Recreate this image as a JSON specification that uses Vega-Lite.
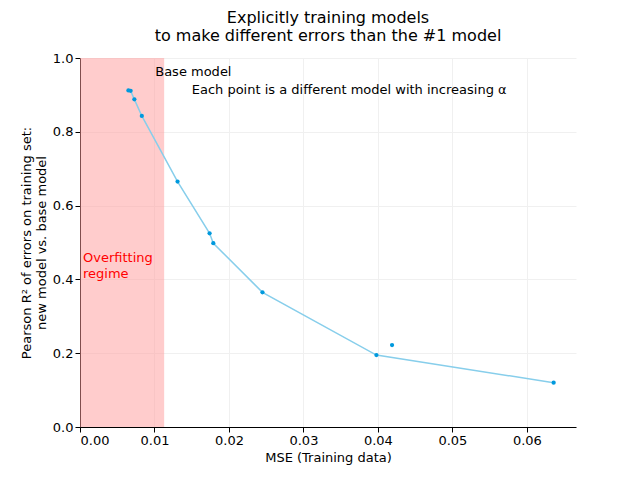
{
"$schema":"https://vega.github.io/schema/vega-lite/v6.json",
"width":496,"height":369,
"background":"white",
"padding":{"left":20,"top":10,"right":5,"bottom":5},
"title":{"text":["Explicitly training models","to make different errors than the #1 model"],"font":"DejaVu Sans","fontSize":16,"fontWeight":"normal","color":"black","offset":8},
"config":{"view":{"stroke":null},"axis":{"labelFont":"DejaVu Sans","titleFont":"DejaVu Sans","labelFontSize":13,"titleFontSize":13,"titleFontWeight":"normal","labelColor":"black","titleColor":"black","domainColor":"black","tickColor":"black","gridColor":"#f0f0f0","tickSize":5}},
"datasets":{
"pts":[
{"mse":0.0065,"r2":0.912,"line":true},
{"mse":0.0068,"r2":0.911,"line":true},
{"mse":0.0073,"r2":0.888,"line":true},
{"mse":0.0083,"r2":0.843,"line":true},
{"mse":0.0131,"r2":0.665,"line":true},
{"mse":0.0174,"r2":0.525,"line":true},
{"mse":0.0179,"r2":0.498,"line":true},
{"mse":0.0245,"r2":0.365,"line":true},
{"mse":0.0398,"r2":0.195,"line":true},
{"mse":0.0419,"r2":0.222,"line":false},
{"mse":0.0636,"r2":0.12,"line":true}],
"region":[{"x0":0,"x1":0.0113}],
"labels":[
{"x":0.0101,"y":0.962,"t":"Base model","c":"black"},
{"x":0.015,"y":0.913,"t":"Each point is a different model with increasing α","c":"black"},
{"x":0.0004,"y":0.457,"t":"Overfitting","c":"red"},
{"x":0.0004,"y":0.415,"t":"regime","c":"red"}]
},
"layer":[
{"data":{"name":"region"},"mark":{"type":"rect","color":"#ff9999","opacity":0.5},
 "encoding":{"x":{"field":"x0","type":"quantitative","scale":{"domain":[0,0.0666],"nice":false},"axis":{"title":"MSE (Training data)","values":[0,0.01,0.02,0.03,0.04,0.05,0.06],"format":".2f","grid":true}},"x2":{"field":"x1"},
 "y":{"datum":0,"type":"quantitative","scale":{"domain":[0,1],"nice":false},"axis":{"title":["Pearson R² of errors on training set:","new model vs. base model"],"values":[0,0.2,0.4,0.6,0.8,1.0],"format":".1f","grid":true}},"y2":{"datum":1}}},
{"data":{"name":"pts"},"transform":[{"filter":"datum.line"}],"mark":{"type":"line","color":"#87ceeb","strokeWidth":1.5},
 "encoding":{"x":{"field":"mse","type":"quantitative"},"y":{"field":"r2","type":"quantitative"},"order":{"field":"mse"}}},
{"data":{"name":"pts"},"mark":{"type":"circle","color":"#0099dd","size":18,"opacity":1},
 "encoding":{"x":{"field":"mse","type":"quantitative"},"y":{"field":"r2","type":"quantitative"}}},
{"data":{"name":"labels"},"mark":{"type":"text","align":"left","baseline":"middle","font":"DejaVu Sans","fontSize":13},
 "encoding":{"x":{"field":"x","type":"quantitative"},"y":{"field":"y","type":"quantitative"},"text":{"field":"t"},"color":{"field":"c","type":"nominal","scale":null}}}
]
}
